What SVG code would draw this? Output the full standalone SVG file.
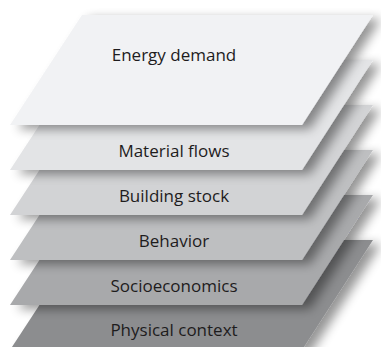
<svg xmlns="http://www.w3.org/2000/svg" width="381" height="347" viewBox="0 0 381 347">
<defs>
<filter id="sh" x="-20%" y="-20%" width="140%" height="150%">
<feGaussianBlur in="SourceAlpha" stdDeviation="5.5"/>
<feOffset dx="8" dy="4" result="b"/>
<feComponentTransfer><feFuncA type="linear" slope="0.42"/></feComponentTransfer>
<feMerge><feMergeNode/><feMergeNode in="SourceGraphic"/></feMerge>
</filter>
<polygon id="plate" points="82,0 373,0 302,110 10,110"/>
</defs>
<style>
.lbl{font-family:"Open Sans","Noto Sans","Liberation Sans",sans-serif;font-size:17px;fill:#1e1c1d;text-anchor:middle}
</style>
<rect width="381" height="347" fill="#ffffff"/>
<g id="physical-context">
<use href="#plate" y="240" fill="#8c8d8f" filter="url(#sh)"/>
<text class="lbl" x="174" y="336">Physical context</text>
</g>
<g id="socioeconomics">
<use href="#plate" y="195" fill="#a8a9ab" filter="url(#sh)"/>
<text class="lbl" x="174" y="292">Socioeconomics</text>
</g>
<g id="behavior">
<use href="#plate" y="150" fill="#bebfc1" filter="url(#sh)"/>
<text class="lbl" x="174" y="247">Behavior</text>
</g>
<g id="building-stock">
<use href="#plate" y="105" fill="#d2d3d5" filter="url(#sh)"/>
<text class="lbl" x="174" y="202">Building stock</text>
</g>
<g id="material-flows">
<use href="#plate" y="60" fill="#e3e4e6" filter="url(#sh)"/>
<text class="lbl" x="174" y="157">Material flows</text>
</g>
<g id="energy-demand">
<use href="#plate" y="15" fill="#f1f2f4" filter="url(#sh)"/>
<text class="lbl" x="174" y="61">Energy demand</text>
</g>
<g id="connectors"/>
</svg>
